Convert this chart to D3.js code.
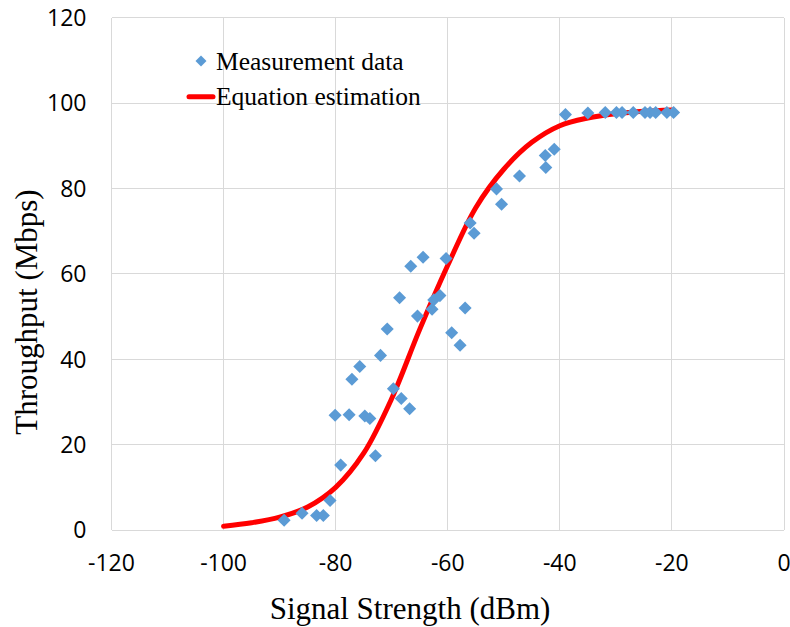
<html>
    <head>
        <script src="https://d3js.org/d3.v7.min.js"></script>
        <style>
            body {
                margin: 0;
                background: white;
            }

            .grid line {
                stroke: #d9d9d9;
                stroke-width: 1px;
                shape-rendering: crispEdges;
            }

            .tick_label {
                font-family: "Open Sans", sans-serif;
                font-size: 23px;
                fill: #000;
            }

            .axis_title {
                font-family: "Liberation Serif", "Times New Roman", serif;
                font-size: 31px;
                fill: #000;
            }

            .legend_text {
                font-family: "Liberation Serif", "Times New Roman", serif;
                font-size: 25.5px;
                fill: #000;
            }

            .fit_line {
                fill: none;
                stroke: #ff0000;
                stroke-width: 5px;
                stroke-linecap: round;
                stroke-linejoin: round;
            }

            .point {
                fill: #5b9bd5;
            }
        </style>
    </head>

    <body>
        <svg id="chart" width="790" height="627"></svg>

        <script>
            // measured throughput vs signal strength
            const measuredSignal = [-89.2, -86.0, -83.4, -82.2, -81.0, -80.1, -79.1, -77.6, -77.1, -75.7,
                                    -74.8, -73.9, -72.9, -72.0, -70.8, -69.7, -68.6, -68.3, -66.8, -66.6,
                                    -65.4, -64.4, -62.8, -62.5, -61.4, -60.3, -59.3, -57.8, -56.9, -56.0,
                                    -55.3, -51.3, -50.4, -47.2, -42.6, -42.5, -41.0, -39.0, -35.0, -31.9,
                                    -29.9, -28.9, -26.9, -24.8, -23.9, -22.9, -20.9, -19.7];
            const measuredThroughput = [2.3, 3.9, 3.4, 3.4, 6.9, 26.9, 15.2, 27.0, 35.3, 38.3,
                                        26.7, 26.1, 17.4, 40.9, 47.1, 33.1, 54.4, 30.8, 28.4, 61.8,
                                        50.1, 63.9, 51.7, 53.9, 54.9, 63.6, 46.2, 43.3, 52.0, 71.9,
                                        69.5, 79.9, 76.3, 82.9, 87.7, 84.9, 89.2, 97.3, 97.7, 97.8,
                                        97.8, 97.8, 97.8, 97.8, 97.8, 97.8, 97.8, 97.8];

            // equation estimation
            const estSignal = [-100, -95, -90, -85, -80, -75, -70, -65, -60, -55, -50, -45, -40, -35, -30, -25, -20];
            const estThroughput = [0.9, 1.7, 3.0, 5.4, 10.0, 18.0, 30.8, 47.0, 62.0, 75.5, 84.5, 90.8, 94.7, 96.5, 97.5, 98.1, 98.4];

            const xTicks = [-120, -100, -80, -60, -40, -20, 0];
            const yTicks = [0, 20, 40, 60, 80, 100, 120];

            const svg = d3.select("#chart");
            const margin = {top: 17.7, right: 6, bottom: 97, left: 111.5};
            const width = svg.attr("width");
            const height = svg.attr("height");

            const x = d3.scaleLinear().domain([-120, 0]).range([margin.left, width - margin.right]);
            const y = d3.scaleLinear().domain([0, 120]).range([height - margin.bottom, margin.top]);

            // gridlines
            const grid = svg.append("g").attr("class", "grid");
            grid.selectAll(".hline").data(yTicks).enter()
                .append("line")
                .attr("x1", x(-120)).attr("x2", x(0))
                .attr("y1", d => y(d)).attr("y2", d => y(d));
            grid.selectAll(".vline").data(xTicks).enter()
                .append("line")
                .attr("x1", d => x(d)).attr("x2", d => x(d))
                .attr("y1", y(0)).attr("y2", y(120));

            // tick labels
            svg.selectAll(".ylab").data(yTicks).enter()
               .append("text")
               .attr("class", "tick_label")
               .attr("x", x(-120) - 25)
               .attr("y", d => y(d))
               .attr("dy", "0.36em")
               .attr("text-anchor", "end")
               .text(d => d);

            svg.selectAll(".xlab").data(xTicks).enter()
               .append("text")
               .attr("class", "tick_label")
               .attr("x", d => x(d))
               .attr("y", y(0) + 41)
               .attr("text-anchor", "middle")
               .text(d => d);

            // axis titles
            svg.append("text")
               .attr("class", "axis_title")
               .attr("x", 410)
               .attr("y", 619)
               .attr("text-anchor", "middle")
               .text("Signal Strength (dBm)");

            svg.append("text")
               .attr("class", "axis_title")
               .attr("transform", "translate(37,312) rotate(-90)")
               .attr("text-anchor", "middle")
               .text("Throughput (Mbps)");

            // estimation curve
            const lineGen = d3.line()
                .x((d, i) => x(estSignal[i]))
                .y((d, i) => y(estThroughput[i]))
                .curve(d3.curveCatmullRom);

            svg.append("path")
               .datum(estSignal)
               .attr("class", "fit_line")
               .attr("d", lineGen);

            // measurement points (square turned 45 deg)
            const diamond = d3.symbol().type(d3.symbolSquare).size(85);

            svg.selectAll(".point").data(measuredSignal).enter()
               .append("path")
               .attr("class", "point")
               .attr("d", diamond)
               .attr("transform", (d, i) => "translate(" + x(d) + "," + y(measuredThroughput[i]) + ") rotate(45)");

            // legend
            const legend = svg.append("g");
            legend.append("path")
                  .attr("class", "point")
                  .attr("d", d3.symbol().type(d3.symbolSquare).size(60))
                  .attr("transform", "translate(201,61) rotate(45)");
            legend.append("text")
                  .attr("class", "legend_text")
                  .attr("x", 216)
                  .attr("y", 70)
                  .text("Measurement data");
            legend.append("line")
                  .attr("class", "fit_line")
                  .attr("x1", 189).attr("x2", 213)
                  .attr("y1", 96.7).attr("y2", 96.7);
            legend.append("text")
                  .attr("class", "legend_text")
                  .attr("x", 216)
                  .attr("y", 105)
                  .text("Equation estimation");
        </script>
    </body>
</html>
